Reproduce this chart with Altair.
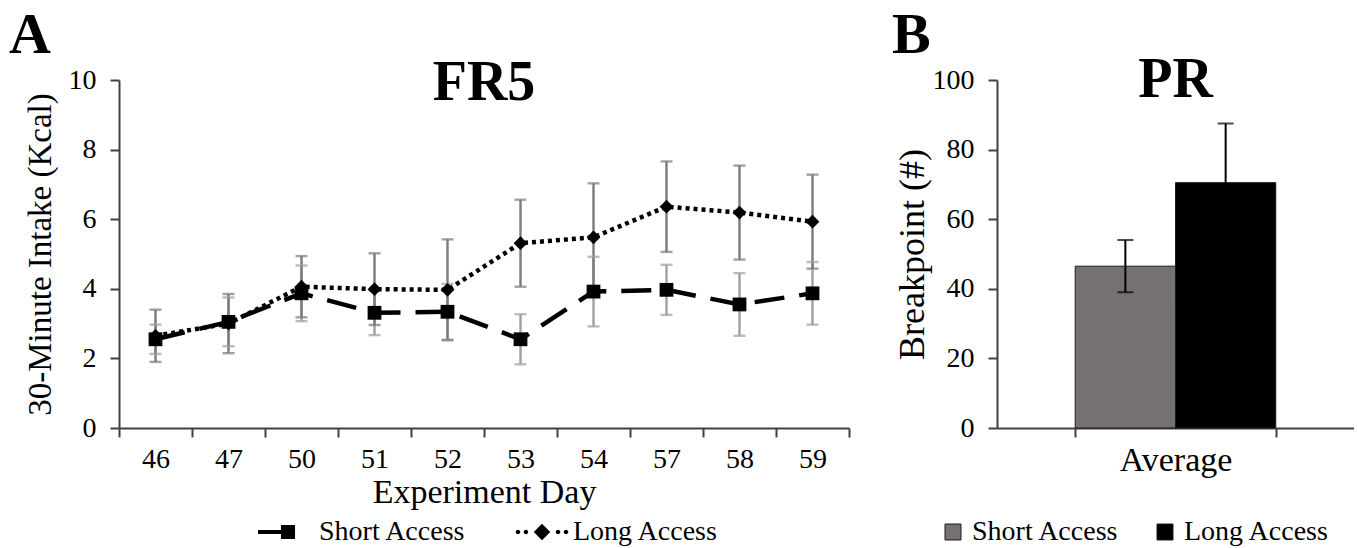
import altair as alt
import pandas as pd

# ---------------- data ----------------
days = ["46", "47", "50", "51", "52", "53", "54", "57", "58", "59"]
series_names = ["Short Access", "Long Access"]
short_mean = [2.55, 3.05, 3.87, 3.31, 3.34, 2.55, 3.92, 3.97, 3.55, 3.87]
short_err = [0.42, 0.70, 0.80, 0.64, 0.80, 0.72, 1.00, 0.72, 0.90, 0.90]
long_mean = [2.65, 3.00, 4.06, 3.99, 3.97, 5.31, 5.48, 6.36, 6.19, 5.93]
long_err = [0.75, 0.85, 0.88, 1.03, 1.45, 1.25, 1.55, 1.30, 1.35, 1.35]

pr_category = ["Average"]
pr_mean = [46.5, 70.5]
pr_err = [7.5, 17.0]

panel_letters = ["A", "B"]
panel_titles = ["FR5", "PR"]
y_ticks_a = [0, 2, 4, 6, 8, 10]
y_ticks_b = [0, 20, 40, 60, 80, 100]

FONT = "Liberation Serif"

# ---------------- tables ----------------
rows = []
for i, d in enumerate(days):
    rows.append({"day": d, "series": series_names[0], "mean": short_mean[i],
                 "lo": short_mean[i] - short_err[i], "hi": short_mean[i] + short_err[i]})
    rows.append({"day": d, "series": series_names[1], "mean": long_mean[i],
                 "lo": long_mean[i] - long_err[i], "hi": long_mean[i] + long_err[i]})
fr5 = pd.DataFrame(rows)

pr = pd.DataFrame({
    "group": pr_category * 2,
    "series": series_names,
    "mean": pr_mean,
    "lo": [m - e for m, e in zip(pr_mean, pr_err)],
    "hi": [m + e for m, e in zip(pr_mean, pr_err)],
})

W_A, W_B, H = 730, 357, 348

# ---------------- panel A ----------------
x_a = alt.X("day:N", sort=days,
            scale=alt.Scale(type="band", paddingInner=0, paddingOuter=0),
            axis=alt.Axis(title="Experiment Day", tickBand="extent", labelAngle=0,
                          labelFontSize=28, labelPadding=8, titleFontSize=34,
                          titlePadding=2))
y_a = alt.Y("mean:Q", scale=alt.Scale(domain=[0, 10], nice=False),
            axis=alt.Axis(values=y_ticks_a, title="30-Minute Intake (Kcal)",
                          titleFontSize=33, labelPadding=14, titlePadding=11))

err_color = alt.Color("series:N", scale=alt.Scale(domain=series_names,
                                                  range=["#a0a0a0", "#7a7a7a"]),
                      legend=None)

base_a = alt.Chart(fr5)

err_rule_a = base_a.mark_rule(strokeWidth=2.4).encode(
    x=x_a, y=alt.Y("lo:Q", scale=alt.Scale(domain=[0, 10], nice=False)),
    y2="hi:Q", color=err_color)

err_tick_a = base_a.transform_fold(["lo", "hi"], as_=["end", "val"]).mark_tick(
    thickness=2.4, size=12).encode(
    x=x_a, y=alt.Y("val:Q", scale=alt.Scale(domain=[0, 10], nice=False)),
    color=err_color)

lines_a = base_a.mark_line(color="black", strokeWidth=4.5, strokeCap="butt").encode(
    x=x_a, y=y_a,
    strokeDash=alt.StrokeDash("series:N",
                              scale=alt.Scale(domain=series_names,
                                              range=[[30, 15], [4, 4]]),
                              legend=None),
    detail="series:N")

points_a = base_a.mark_point(filled=True, color="black", size=190, opacity=1).encode(
    x=x_a, y=y_a,
    shape=alt.Shape("series:N",
                    scale=alt.Scale(domain=series_names, range=["square", "diamond"]),
                    legend=None))


def circ(cx, r):
    return (f"M{cx - r},0A{r},{r} 0 1,0 {cx + r},0"
            f"A{r},{r} 0 1,0 {cx - r},0Z")


short_sym = "M-2,-0.14H0V0.14H-2Z M-0.47,-0.47H0.47V0.47H-0.47Z"
long_sym = " ".join([circ(-1.6, 0.15), circ(-1.07, 0.15),
                     "M0,-0.55L0.55,0L0,0.55L-0.55,0Z",
                     circ(1.07, 0.15), circ(1.6, 0.15)])

legend_a = base_a.transform_filter("false").mark_point(
    filled=True, color="black", opacity=1).encode(
    x=x_a, y=y_a,
    shape=alt.Shape("series:N",
                    scale=alt.Scale(domain=series_names, range=[short_sym, long_sym]),
                    legend=alt.Legend(title=None, orient="none", legendX=154, legendY=437,
                                      direction="horizontal", symbolSize=900,
                                      symbolStrokeWidth=0, symbolFillColor="black",
                                      symbolOpacity=1,
                                      labelOffset=16, columnPadding=49,
                                      labelFontSize=28, padding=0)))

letter_a = alt.Chart(pd.DataFrame({"t": [panel_letters[0]]})).mark_text(
    font=FONT, fontSize=58, fontWeight="bold", align="left", baseline="alphabetic",
    color="black").encode(x=alt.value(-110), y=alt.value(-27), text="t:N")

title_a = alt.Chart(pd.DataFrame({"t": [panel_titles[0]]})).mark_text(
    font=FONT, fontSize=56, fontWeight="bold", align="center", baseline="alphabetic",
    color="black").encode(x=alt.value(W_A / 2), y=alt.value(20), text="t:N")

panel_a = alt.layer(err_rule_a, err_tick_a, lines_a, points_a, legend_a,
                    letter_a, title_a).resolve_scale(
    shape="independent").resolve_legend(shape="independent").properties(
    width=W_A, height=H)

# ---------------- panel B ----------------
x_b = alt.X("group:N",
            scale=alt.Scale(type="band", paddingInner=0, paddingOuter=0.39),
            axis=alt.Axis(title=None, tickBand="extent", labelAngle=0,
                          labelFontSize=34, labelPadding=6))
xo_b = alt.XOffset("series:N", sort=series_names,
                   scale=alt.Scale(domain=series_names, paddingInner=0, paddingOuter=0))
ysc_b = alt.Scale(domain=[0, 100], nice=False)

base_b = alt.Chart(pr)

bars_b = base_b.mark_bar(stroke="#1a1a1a", strokeWidth=1, opacity=1).encode(
    x=x_b, xOffset=xo_b,
    y=alt.Y("mean:Q", scale=ysc_b,
            axis=alt.Axis(values=y_ticks_b, title="Breakpoint (#)", titleFontSize=36,
                          labelPadding=14, titlePadding=1)),
    fill=alt.Fill("series:N",
                  scale=alt.Scale(domain=series_names, range=["#767171", "#000000"]),
                  legend=alt.Legend(title=None, orient="none", legendX=-58, legendY=438,
                                    direction="horizontal", symbolType="square",
                                    symbolSize=256, symbolStrokeColor="#1a1a1a",
                                    symbolStrokeWidth=1, symbolOpacity=1, labelOffset=5,
                                    columnPadding=32, labelFontSize=28, padding=0)))

err_rule_b = base_b.mark_rule(color="#000000", strokeWidth=2).encode(
    x=x_b, xOffset=xo_b, y=alt.Y("lo:Q", scale=ysc_b), y2="hi:Q")

err_tick_b = base_b.transform_fold(["lo", "hi"], as_=["end", "val"]).mark_tick(
    color="#000000", thickness=2, size=16).encode(
    x=x_b, xOffset=xo_b, y=alt.Y("val:Q", scale=ysc_b))

letter_b = alt.Chart(pd.DataFrame({"t": [panel_letters[1]]})).mark_text(
    font=FONT, fontSize=58, fontWeight="bold", align="left", baseline="alphabetic",
    color="black").encode(x=alt.value(-105), y=alt.value(-27), text="t:N")

title_b = alt.Chart(pd.DataFrame({"t": [panel_titles[1]]})).mark_text(
    font=FONT, fontSize=56, fontWeight="bold", align="center", baseline="alphabetic",
    color="black").encode(x=alt.value(W_B / 2), y=alt.value(17), text="t:N")

panel_b = alt.layer(bars_b, err_rule_b, err_tick_b, letter_b, title_b).properties(
    width=W_B, height=H)

chart = alt.hconcat(panel_a, panel_b, spacing=42).resolve_scale(
    color="independent", fill="independent", shape="independent",
    strokeDash="independent", x="independent", y="independent"
).resolve_legend(color="independent", fill="independent", shape="independent").properties(
    padding={"left": 9, "top": 7, "right": 0, "bottom": 0}
).configure(font=FONT, background="white").configure_axis(
    labelFont=FONT, titleFont=FONT, labelFontSize=28, titleFontWeight="normal",
    labelColor="black", titleColor="black",
    domainColor="#404040", domainWidth=2, tickColor="#404040", tickWidth=2,
    tickSize=9, grid=False
).configure_legend(labelFont=FONT, labelColor="black").configure_view(stroke=None)

chart.save("out.html", embed_options={"renderer": "svg", "actions": False})
